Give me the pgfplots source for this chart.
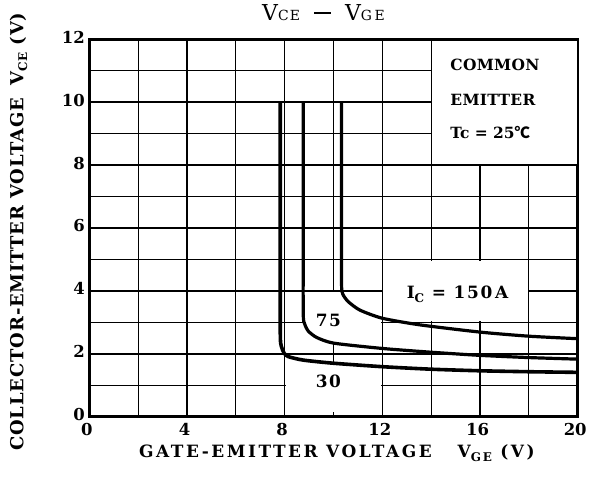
\documentclass[border=0pt]{standalone}
\usepackage{fontspec}
\setmainfont{DejaVu Serif}
\newfontfamily\cjk{Noto Sans CJK SC}
\usepackage{pgfplots}
\pgfplotsset{compat=1.18}
\newcommand{\sub}[1]{\raisebox{-0.4ex}{\fontsize{12}{12}\selectfont #1}}
\begin{document}
\begin{tikzpicture}
\path[use as bounding box] (-89.3bp,-62.3bp) rectangle (499.7bp,416.7bp);
\begin{axis}[
  at={(0,0)}, anchor=south west,
  scale only axis, width=488.4bp, height=377.4bp,
  xmin=0, xmax=20, ymin=0, ymax=12,
  xtick={0,4,...,20}, minor xtick={2,6,10,14,18},
  ytick={0,2,...,12}, minor ytick={1,3,...,11},
  grid=both,
  major grid style={black, line width=1.5bp},
  minor grid style={black, line width=1.2bp},
  axis line style={black, line width=2.6bp},
  tick style={draw=none},
  /pgf/number format/assume math mode=true,
  ticklabel style={font=\fontsize{16.5}{16.5}\selectfont\bfseries},
  xticklabel style={yshift=-3bp, xshift=-2.5bp},
  yticklabel style={xshift=-1bp, yshift=2bp},
  clip=false,
]
% white label boxes
\fill[white] (axis cs:14.04,8.04) rectangle (axis cs:19.96,11.96);
\fill[white] (axis cs:12.04,3.04) rectangle (axis cs:17.96,4.96);
\fill[white] (axis cs:8.85,2.38) rectangle (axis cs:11.96,3.96);
\fill[white] (axis cs:8.04,0.15) rectangle (axis cs:11.96,1.75);

% IC = 30 A
\addplot[black, line width=3.6bp, smooth, tension=0.4] coordinates {
(7.82,10) (7.82,6) (7.82,2.7) (7.86,2.25) (7.98,2.02) (8.15,1.91) (8.76,1.80) (10,1.70) (12,1.59) (14,1.51) (16,1.46) (18,1.43) (20,1.41)};
% IC = 75 A
\addplot[black, line width=3.2bp, smooth, tension=0.4] coordinates {
(8.76,10) (8.76,6) (8.76,3.3) (8.82,2.95) (8.97,2.72) (9.31,2.52) (10,2.34) (12,2.17) (14,2.05) (16,1.95) (18,1.88) (20,1.83)};
% IC = 150 A
\addplot[black, line width=3.2bp, smooth, tension=0.4] coordinates {
(10.33,10) (10.33,6) (10.33,4.2) (10.38,3.9) (10.6,3.66) (11.08,3.39) (12,3.13) (13.54,2.92) (16,2.69) (18,2.56) (20,2.48)};

\node[font=\fontsize{15.5}{15.5}\selectfont\bfseries, anchor=west, inner sep=0pt]
  at (axis cs:14.78,11.18) {\addfontfeature{LetterSpace=2}COMMON};
\node[font=\fontsize{15.5}{15.5}\selectfont\bfseries, anchor=west, inner sep=0pt]
  at (axis cs:14.78,10.07) {\addfontfeature{LetterSpace=2}EMITTER};
\node[font=\fontsize{15.5}{15.5}\selectfont\bfseries, anchor=west, inner sep=0pt]
  at (axis cs:14.78,9.05) {Tc = 25{\cjk\bfseries ℃}};
\node[font=\fontsize{17}{17}\selectfont\bfseries] at (axis cs:15.08,3.9) {\addfontfeature{LetterSpace=10}I\sub{C} = 150\,A};
\node[font=\fontsize{17}{17}\selectfont\bfseries] at (axis cs:9.79,3.07) {\addfontfeature{LetterSpace=8}75};
\node[font=\fontsize{17}{17}\selectfont\bfseries] at (axis cs:9.79,1.11) {\addfontfeature{LetterSpace=8}30};

\node[font=\fontsize{17}{17}\selectfont\bfseries] at (axis description cs:0.507,-0.096)
  {\addfontfeature{LetterSpace=15}GATE-EMITTER VOLTAGE\hspace{26bp}V\sub{GE} (V)};
\node[font=\fontsize{18}{18}\selectfont\bfseries, rotate=90] at (axis description cs:-0.145,0.490)
  {\addfontfeature{LetterSpace=5}COLLECTOR-EMITTER VOLTAGE\hspace{12bp}V\sub{CE} (V)};
\node[font=\fontsize{22}{22}\selectfont, anchor=base west, inner sep=0pt] at (axis description cs:0.3536,1.051)
  {V{\fontsize{14}{14}\selectfont\addfontfeature{LetterSpace=8}CE}\hspace{14bp}\rule[6.5bp]{17bp}{1.6bp}\hspace{14bp}V{\fontsize{14}{14}\selectfont\addfontfeature{LetterSpace=20}GE}};
\end{axis}
\end{tikzpicture}
\end{document}
